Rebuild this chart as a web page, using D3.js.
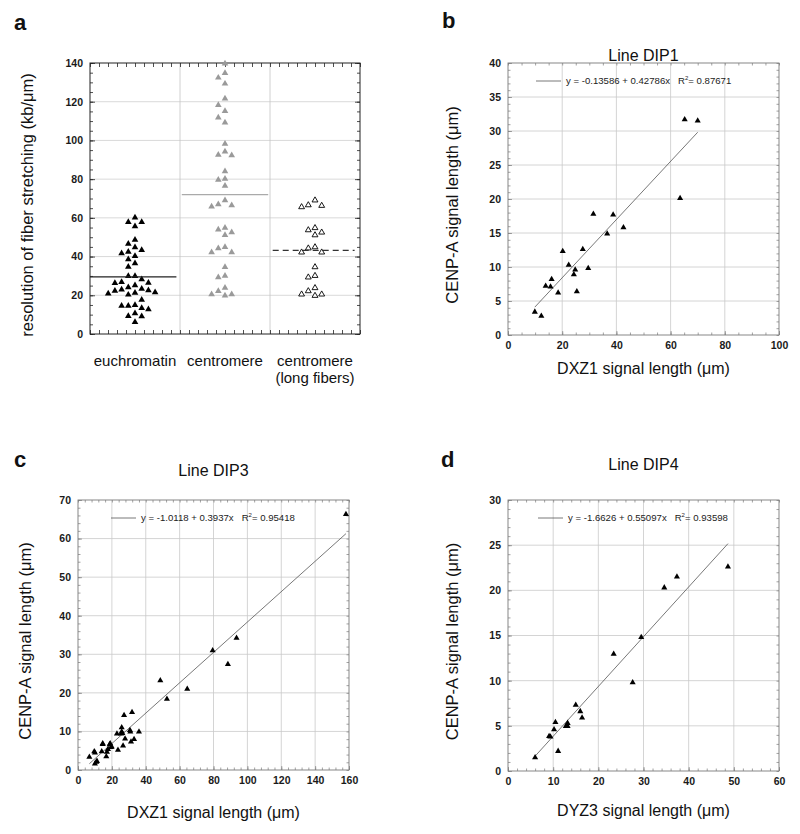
<!DOCTYPE html>
<html><head><meta charset="utf-8">
<script src="https://cdn.jsdelivr.net/npm/d3@7"></script>
<style>
body{margin:0;background:#fff}
svg{display:block}
text{font-family:"Liberation Sans",Arial,Helvetica,sans-serif}
</style>
</head><body>
<svg id="chart" width="800" height="834"></svg>
<script>
// ---------------- DATA ----------------
// Panel a: resolution of fiber stretching (kb/um)
const categories = ["euchromatin", "centromere", "centromere|(long fibers)"];
const euchromatin = [60.1, 57.8, 57.8, 55.6, 48.7, 46.6, 44.8, 43.3, 42.4, 41.7, 40.3, 38.6, 36.5, 34.7,
  29.9, 29.9, 28.2, 26.3, 26.4, 26.8, 25.1, 24.1, 23.3, 22.5, 23.0, 22.3, 21.5, 20.9, 20.3, 21.3,
  17.7, 15.0, 14.5, 14.6, 13.4, 12.7, 10.7, 9.2, 9.1, 6.1];
const centromere = [139.7, 134.8, 132.4, 129.3, 121.6, 118.3, 115.2, 111.8, 109.2, 98.3, 94.2, 92.5, 92.3,
  84.0, 80.2, 79.6, 76.5, 69.1, 67.0, 66.5, 65.8, 54.9, 53.9, 52.5, 51.1, 44.9, 44.3, 42.2, 42.2,
  34.6, 30.1, 29.3, 23.8, 22.2, 20.5, 20.5, 19.8];
const centromereLong = [69.1, 66.6, 66.3, 65.6, 54.8, 53.7, 52.5, 51.1, 44.9, 44.3, 42.2, 42.2,
  34.6, 30.1, 29.3, 23.8, 22.2, 20.5, 20.5, 19.8];
const centerLines = [29.5, 72.0, 43.2];
const resolutionTicks = [0, 20, 40, 60, 80, 100, 120, 140];

// Panel b: Line DIP1 (DXZ1 vs CENP-A)
const dip1X = [9.9, 12.3, 13.9, 15.7, 16.1, 18.5, 20.2, 22.4, 24.3, 24.8, 25.4, 27.6, 29.6, 31.5, 36.6, 38.8, 42.6, 63.5, 65.2, 70.0];
const dip1Y = [3.4, 2.8, 7.2, 7.1, 8.2, 6.2, 12.3, 10.3, 8.9, 9.6, 6.4, 12.6, 9.8, 17.8, 14.9, 17.7, 15.8, 20.1, 31.7, 31.5];
const dip1XTicks = [0, 20, 40, 60, 80, 100];
const dip1YTicks = [0, 5, 10, 15, 20, 25, 30, 35, 40];

// Panel c: Line DIP3 (DXZ1 vs CENP-A)
const dip3X = [158.2, 93.6, 79.5, 88.5, 48.6, 64.5, 52.5, 6.7, 9.6, 10.0, 10.0, 10.8, 11.2, 14.0, 14.6, 14.6,
  16.7, 17.1, 17.7, 18.7, 19.5, 19.0, 19.9, 23.6, 23.0, 25.4, 25.8, 25.8, 26.2, 26.6, 27.2, 27.8,
  30.7, 30.9, 31.3, 31.9, 33.1, 36.0];
const dip3Y = [66.3, 34.2, 31.0, 27.4, 23.2, 21.0, 18.4, 3.4, 4.8, 4.5, 1.6, 2.1, 2.3, 4.8, 6.9, 6.7,
  3.5, 4.7, 5.4, 6.6, 5.9, 6.9, 6.0, 5.2, 9.4, 9.4, 11.0, 9.9, 9.5, 6.3, 14.2, 8.1,
  10.3, 9.9, 7.3, 15.0, 8.0, 9.9];
const dip3XTicks = [0, 20, 40, 60, 80, 100, 120, 140, 160];
const dip3YTicks = [0, 10, 20, 30, 40, 50, 60, 70];

// Panel d: Line DIP4 (DYZ3 vs CENP-A)
const dip4X = [6.0, 9.1, 9.4, 10.2, 10.5, 11.1, 12.8, 13.2, 13.2, 15.0, 16.0, 16.4, 23.4, 27.6, 29.5, 34.6, 37.4, 48.7];
const dip4Y = [1.5, 3.85, 3.78, 4.6, 5.4, 2.2, 4.96, 5.3, 4.96, 7.3, 6.6, 5.9, 12.95, 9.8, 14.8, 20.3, 21.5, 22.6];
const dip4XTicks = [0, 10, 20, 30, 40, 50, 60];
const dip4YTicks = [0, 5, 10, 15, 20, 25, 30];

// Linear fits
const fitIntercept = [-0.13586, -1.0118, -1.6626];
const fitSlope = [0.42786, 0.3937, 0.55097];
const fitR2 = ["0.87671", "0.95418", "0.93598"];

// ---------------- DRAWING ----------------
const svg = d3.select("#chart");
svg.append("rect").attr("width", 800).attr("height", 834).attr("fill", "#fff");

function panelLabel(txt, x, y) {
  svg.append("text").attr("x", x).attr("y", y).attr("font-size", 22).attr("font-weight", "bold")
    .attr("fill", "#111").text(txt);
}

function styleAxis(g, color) {
  g.select(".domain").remove();
  g.selectAll("line").attr("stroke", color).attr("stroke-width", 0.8);
  g.selectAll("text").attr("font-size", 10.5).attr("font-weight", "bold").attr("fill", "#1a1a1a");
}

// ---- Panel a ----
(function () {
  const L = 90, R = 360, T = 63, B = 334;
  const y = d3.scaleLinear().domain([0, 140]).range([B, T]);
  const xs = d3.scaleLinear().domain([0, 30]).range([L, R]);
  const g = svg.append("g");
  g.selectAll(".hg").data(resolutionTicks.slice(1, -1)).join("line")
    .attr("x1", L).attr("x2", R).attr("y1", d => y(d)).attr("y2", d => y(d))
    .attr("stroke", "#cfcfcf").attr("stroke-width", 0.8);
  g.selectAll(".vg").data([10, 20]).join("line")
    .attr("x1", d => xs(d)).attr("x2", d => xs(d)).attr("y1", T).attr("y2", B)
    .attr("stroke", "#c4c4c4").attr("stroke-width", 0.8);
  const ax = g.append("g").attr("transform", `translate(${L},0)`)
    .call(d3.axisLeft(y).tickValues(resolutionTicks).tickSize(-5).tickPadding(7).tickFormat(d3.format("d")));
  styleAxis(ax, "#222");
  const axm = g.append("g").attr("transform", `translate(${L},0)`)
    .call(d3.axisLeft(y).tickValues(d3.range(0, 141, 5)).tickSize(-3).tickFormat(""));
  styleAxis(axm, "#222");
  const axr = g.append("g").attr("transform", `translate(${R},0)`)
    .call(d3.axisRight(y).tickValues(d3.range(0, 141, 5)).tickSize(-3).tickFormat(""));
  styleAxis(axr, "#222");
  const axrM = g.append("g").attr("transform", `translate(${R},0)`)
    .call(d3.axisRight(y).tickValues(resolutionTicks).tickSize(-5).tickFormat(""));
  styleAxis(axrM, "#222");
  const axt = g.append("g").attr("transform", `translate(0,${T})`)
    .call(d3.axisTop(xs).tickValues(d3.range(0, 31, 1)).tickSize(-4).tickFormat(""));
  styleAxis(axt, "#222");
  const axb = g.append("g").attr("transform", `translate(0,${B})`)
    .call(d3.axisBottom(xs).tickValues(d3.range(0, 31, 1)).tickSize(-4).tickFormat(""));
  styleAxis(axb, "#222");
  g.append("rect").attr("x", L).attr("y", T).attr("width", R - L).attr("height", B - T)
    .attr("fill", "none").attr("stroke", "#222").attr("stroke-width", 1);

  // beeswarm layout
  const slotW = 6.7, minGap = 7;
  function swarm(values) {
    const order = values.map((v, i) => i).sort((a, b) => values[b] - values[a]);
    const placed = [];
    const slots = new Array(values.length);
    order.forEach(i => {
      const py = y(values[i]);
      for (let k = 0; k < 20; k++) {
        const s = k === 0 ? 0 : (k % 2 === 1 ? -(k + 1) / 2 : k / 2);
        const clash = placed.some(p => p.s === s && Math.abs(p.py - py) < minGap);
        if (!clash) { placed.push({ s, py }); slots[i] = s; break; }
      }
    });
    return slots;
  }
  const groups = [
    { vals: euchromatin, fill: "#000", stroke: "none", size: 19 },
    { vals: centromere, fill: "#9a9a9a", stroke: "none", size: 19 },
    { vals: centromereLong, fill: "#fff", stroke: "#000", size: 15 }
  ];
  const tri = d3.symbol().type(d3.symbolTriangle);
  groups.forEach((grp, gi) => {
    const cx = xs(gi * 10 + 5);
    const slots = swarm(grp.vals);
    g.append("g").selectAll("path").data(grp.vals).join("path")
      .attr("d", tri.size(grp.size)())
      .attr("transform", (d, i) => `translate(${cx + slots[i] * slotW},${y(d)})`)
      .attr("fill", grp.fill).attr("stroke", grp.stroke).attr("stroke-width", 0.9);
  });
  const lineStyles = [
    { stroke: "#222", dash: null, x0: 0, x1: 9.6 },
    { stroke: "#aaa", dash: null, x0: 10.2, x1: 19.8 },
    { stroke: "#333", dash: "6,4", x0: 20.3, x1: 29.4 }
  ];
  centerLines.forEach((v, i) => {
    const st = lineStyles[i];
    g.append("line").attr("x1", xs(st.x0)).attr("x2", xs(st.x1)).attr("y1", y(v)).attr("y2", y(v))
      .attr("stroke", st.stroke).attr("stroke-width", 1.1).attr("stroke-dasharray", st.dash);
  });
  categories.forEach((c, i) => {
    const parts = c.split("|");
    const t = g.append("text").attr("x", xs(i * 10 + 5)).attr("y", 366).attr("text-anchor", "middle")
      .attr("font-size", 15).attr("fill", "#111");
    parts.forEach((p, j) => t.append("tspan").attr("x", xs(i * 10 + 5)).attr("dy", j === 0 ? 0 : 17).text(p));
  });
  g.append("text").attr("transform", "translate(33,205) rotate(-90)").attr("text-anchor", "middle")
    .attr("font-size", 16.5).attr("fill", "#111").text("resolution of fiber stretching (kb/\u03bcm)");
})();
panelLabel("a", 14, 30);

// ---- Scatter panels ----
function scatterPanel(o) {
  const { L, R, T, B } = o;
  const x = d3.scaleLinear().domain([o.xTicks[0], o.xTicks[o.xTicks.length - 1]]).range([L, R]);
  const y = d3.scaleLinear().domain([o.yTicks[0], o.yTicks[o.yTicks.length - 1]]).range([B, T]);
  const g = svg.append("g");
  const gridC = "#c9c9c9", axC = "#8a8a8a";
  g.selectAll(".hg").data(o.yTicks.slice(1, -1)).join("line")
    .attr("x1", L).attr("x2", R).attr("y1", d => y(d)).attr("y2", d => y(d))
    .attr("stroke", gridC).attr("stroke-width", 0.8);
  g.selectAll(".vg").data(o.xTicks.slice(1, -1)).join("line")
    .attr("y1", T).attr("y2", B).attr("x1", d => x(d)).attr("x2", d => x(d))
    .attr("stroke", gridC).attr("stroke-width", 0.8);
  const yMinor = d3.range(y.domain()[0], y.domain()[1] + 1e-9, o.yMinor);
  const xMinor = d3.range(x.domain()[0], x.domain()[1] + 1e-9, o.xMinor);
  const a1 = g.append("g").attr("transform", `translate(${L},0)`)
    .call(d3.axisLeft(y).tickValues(o.yTicks).tickSize(-4).tickPadding(7).tickFormat(d3.format("d")));
  styleAxis(a1, axC);
  const a2 = g.append("g").attr("transform", `translate(${L},0)`)
    .call(d3.axisLeft(y).tickValues(yMinor).tickSize(-2.5).tickFormat(""));
  styleAxis(a2, axC);
  const a3 = g.append("g").attr("transform", `translate(${R},0)`)
    .call(d3.axisRight(y).tickValues(yMinor).tickSize(-2.5).tickFormat(""));
  styleAxis(a3, axC);
  const a4 = g.append("g").attr("transform", `translate(0,${B})`)
    .call(d3.axisBottom(x).tickValues(o.xTicks).tickSize(-4).tickPadding(7).tickFormat(d3.format("d")));
  styleAxis(a4, axC);
  const a5 = g.append("g").attr("transform", `translate(0,${B})`)
    .call(d3.axisBottom(x).tickValues(xMinor).tickSize(-2.5).tickFormat(""));
  styleAxis(a5, axC);
  const a6 = g.append("g").attr("transform", `translate(0,${T})`)
    .call(d3.axisTop(x).tickValues(xMinor).tickSize(-2.5).tickFormat(""));
  styleAxis(a6, axC);
  g.append("rect").attr("x", L).attr("y", T).attr("width", R - L).attr("height", B - T)
    .attr("fill", "none").attr("stroke", "#7a7a7a").attr("stroke-width", 0.9);

  const k = o.fit;
  const x0 = d3.min(o.xs), x1 = d3.max(o.xs);
  g.append("line").attr("x1", x(x0)).attr("y1", y(fitIntercept[k] + fitSlope[k] * x0))
    .attr("x2", x(x1)).attr("y2", y(fitIntercept[k] + fitSlope[k] * x1))
    .attr("stroke", "#555").attr("stroke-width", 0.8);
  const tri = d3.symbol().type(d3.symbolTriangle).size(16);
  g.append("g").selectAll("path").data(o.xs).join("path")
    .attr("d", tri())
    .attr("transform", (d, i) => `translate(${x(d)},${y(o.ys[i])})`)
    .attr("fill", "#000");
  g.append("line").attr("x1", L + o.legX).attr("x2", L + o.legX + 25).attr("y1", T + 18).attr("y2", T + 18)
    .attr("stroke", "#555").attr("stroke-width", 0.8);
  const lt = g.append("text").attr("x", L + o.legX + 30).attr("y", T + 21).attr("font-size", 9.6)
    .attr("fill", "#222").style("white-space", "pre");
  lt.append("tspan").text(`y = ${fitIntercept[k]} + ${fitSlope[k]}x   R`);
  lt.append("tspan").attr("font-size", 6).attr("dy", -4).text("2");
  lt.append("tspan").attr("dy", 4).text(`= ${fitR2[k]}`);
  const cx = (L + R) / 2;
  g.append("text").attr("x", cx).attr("y", T + o.titleDy).attr("text-anchor", "middle")
    .attr("font-size", 16).attr("fill", "#111").text(o.title);
  g.append("text").attr("x", cx).attr("y", B + o.xTitleDy).attr("text-anchor", "middle")
    .attr("font-size", 16).attr("fill", "#111").text(o.xTitle);
  g.append("text").attr("transform", `translate(${o.yTitleX},${(T + B) / 2 + 6}) rotate(-90)`)
    .attr("text-anchor", "middle").attr("font-size", 16.5).attr("fill", "#111").text(o.yTitle);
}

scatterPanel({ L: 508, R: 779, T: 63, B: 335, xs: dip1X, ys: dip1Y, xTicks: dip1XTicks, yTicks: dip1YTicks,
  xMinor: 5, yMinor: 1, fit: 0, legX: 28, title: "Line DIP1", titleDy: -2, xTitleDy: 39, yTitleX: 458,
  xTitle: "DXZ1 signal length (\u03bcm)", yTitle: "CENP-A signal length (\u03bcm)" });
scatterPanel({ L: 78, R: 349, T: 500, B: 770, xs: dip3X, ys: dip3Y, xTicks: dip3XTicks, yTicks: dip3YTicks,
  xMinor: 4, yMinor: 2, fit: 1, legX: 33, title: "Line DIP3", titleDy: -24, xTitleDy: 48, yTitleX: 31,
  xTitle: "DXZ1 signal length (\u03bcm)", yTitle: "CENP-A signal length (\u03bcm)" });
scatterPanel({ L: 508, R: 779, T: 500, B: 771, xs: dip4X, ys: dip4Y, xTicks: dip4XTicks, yTicks: dip4YTicks,
  xMinor: 2, yMinor: 1, fit: 2, legX: 30, title: "Line DIP4", titleDy: -30, xTitleDy: 45, yTitleX: 458,
  xTitle: "DYZ3 signal length (\u03bcm)", yTitle: "CENP-A signal length (\u03bcm)" });

panelLabel("b", 442, 28);
panelLabel("c", 14, 467);
panelLabel("d", 441, 467);
</script>
</body></html>
